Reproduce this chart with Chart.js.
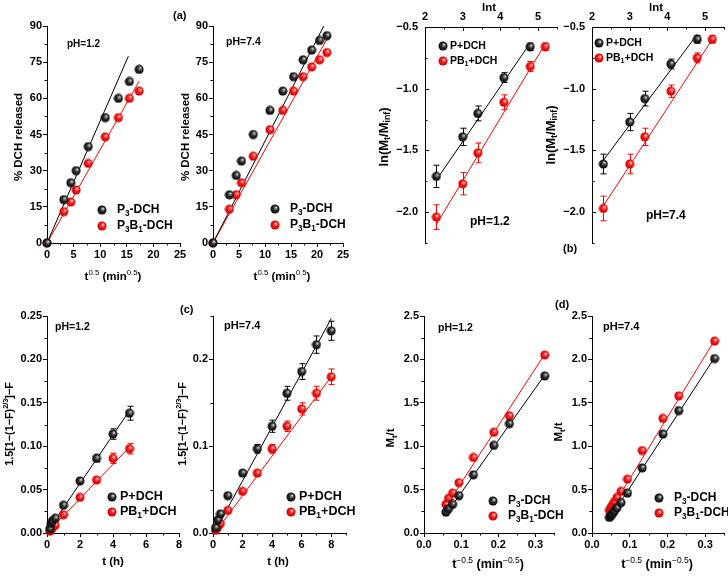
<!DOCTYPE html>
<html>
<head>
<meta charset="utf-8">
<script src="https://cdn.jsdelivr.net/npm/chart.js@4.4.1/dist/chart.umd.min.js"></script>
<style>
  body { margin: 0; background: #fff; }
  #wrap { position: relative; width: 728px; height: 578px; }
  #wrap canvas { position: absolute; left: 0; top: 0; }
</style>
</head>
<body>
<div id="wrap">
  <canvas id="a1" width="728" height="578"></canvas>
  <canvas id="a2" width="728" height="578"></canvas>
  <canvas id="b1" width="728" height="578"></canvas>
  <canvas id="b2" width="728" height="578"></canvas>
  <canvas id="c1" width="728" height="578"></canvas>
  <canvas id="c2" width="728" height="578"></canvas>
  <canvas id="d1" width="728" height="578"></canvas>
  <canvas id="d2" width="728" height="578"></canvas>
</div>
<script>
// ---- (a) Higuchi: % DCH released vs t^0.5
const aX12 = [0, 3.16, 4.47, 5.48, 7.75, 10.95, 13.42, 15.49, 17.32];
const aP3_12 = [0, 18, 25, 30, 40, 52, 60, 67, 72];
const aP3B1_12 = [0, 13, 17, 22, 33, 44, 52, 60, 63];
const aX74 = [0, 3.16, 4.47, 5.48, 7.75, 10.95, 13.42, 15.49, 17.32, 18.97, 20.49, 21.91];
const aP3_74 = [0, 20, 28, 34, 45, 55, 63, 69, 76, 80, 84, 86];
const aP3B1_74 = [0, 14, 20, 25, 36, 47, 55, 63, 69, 73, 76, 79];
const aFitX_P3_12 = [0, 15.3], aFitY_P3_12 = [0, 77.5];
const aFitX_P3B1_12 = [0, 17.3], aFitY_P3B1_12 = [0, 67];
const aFitX_P3_74 = [0, 21.3], aFitY_P3_74 = [0, 90];
const aFitX_P3B1_74 = [0, 22.4], aFitY_P3B1_74 = [0, 86.5];
const aTicksX = [0, 5, 10, 15, 20, 25];
const aTicksY = [0, 15, 30, 45, 60, 75, 90];

// ---- (b) ln(Mt/Minf) vs ln t
const bX = [2.30, 3.00, 3.40, 4.09, 4.79];
const bXred = [2.30, 3.00, 3.40, 4.09, 4.79, 5.19];
const bP_12 = [-1.71, -1.39, -1.20, -0.91, -0.66];
const bP_12err = [0.09, 0.07, 0.06, 0.04, 0.03];
const bPB1_12 = [-2.04, -1.77, -1.52, -1.11, -0.82, -0.66];
const bPB1_12err = [0.10, 0.09, 0.08, 0.06, 0.04, 0.03];
const bP_74 = [-1.61, -1.27, -1.08, -0.80, -0.60];
const bP_74err = [0.08, 0.07, 0.06, 0.04, 0.03];
const bPB1_74 = [-1.97, -1.61, -1.39, -1.02, -0.75, -0.60];
const bPB1_74err = [0.10, 0.08, 0.07, 0.05, 0.04, 0.03];
const bFitX_P_12 = [2.30, 4.79], bFitY_P_12 = [-1.74, -0.63];
const bFitX_PB1_12 = [2.30, 5.19], bFitY_PB1_12 = [-2.10, -0.635];
const bFitX_P_74 = [2.30, 4.79], bFitY_P_74 = [-1.58, -0.56];
const bFitX_PB1_74 = [2.30, 5.19], bFitY_PB1_74 = [-1.95, -0.60];
const bTicksX = [2, 3, 4, 5];
const bTicksY = [-2.0, -1.5, -1.0, -0.5];

// ---- (c) 1.5[1-(1-F)^2/3]-F vs t (h)
const cX12 = [0.17, 0.25, 0.33, 0.5, 1, 2, 3, 4, 5];
const cP_12 = [0.005, 0.011, 0.014, 0.017, 0.032, 0.060, 0.086, 0.114, 0.138];
const cP_12err = [0.001, 0.001, 0.001, 0.001, 0.002, 0.002, 0.004, 0.006, 0.008];
const cPB1_12 = [0.002, 0.004, 0.006, 0.009, 0.021, 0.041, 0.061, 0.086, 0.097];
const cPB1_12err = [0.001, 0.001, 0.001, 0.001, 0.001, 0.002, 0.003, 0.006, 0.006];
const cX74 = [0.17, 0.33, 0.5, 1, 2, 3, 4, 5, 6, 7, 8];
const cP_74 = [0.006, 0.015, 0.022, 0.043, 0.069, 0.097, 0.123, 0.161, 0.186, 0.217, 0.233];
const cP_74err = [0.001, 0.001, 0.002, 0.002, 0.003, 0.005, 0.007, 0.008, 0.009, 0.010, 0.011];
const cPB1_74 = [0.003, 0.007, 0.011, 0.026, 0.048, 0.069, 0.097, 0.123, 0.143, 0.161, 0.180];
const cPB1_74err = [0.001, 0.001, 0.001, 0.002, 0.002, 0.003, 0.005, 0.006, 0.007, 0.008, 0.009];
const cFitX_P_12 = [0.1, 5], cFitY_P_12 = [0.004, 0.141];
const cFitX_PB1_12 = [0.1, 5], cFitY_PB1_12 = [0.002, 0.099];
const cFitX_P_74 = [0.2, 8], cFitY_P_74 = [0.004, 0.247];
const cFitX_PB1_74 = [0.2, 8], cFitY_PB1_74 = [0.002, 0.180];
const cTicksX = [0, 2, 4, 6, 8];
const cTicksY12 = [0, 0.05, 0.10, 0.15, 0.20, 0.25];
const cTicksY74 = [0, 0.1, 0.2];

// ---- (d) Mt/t vs t^-0.5
const dX12 = [0.059, 0.066, 0.077, 0.094, 0.133, 0.188, 0.230, 0.325];
const dP3_12 = [0.24, 0.28, 0.33, 0.43, 0.67, 1.01, 1.26, 1.81];
const dP3B1_12 = [0.33, 0.40, 0.46, 0.58, 0.87, 1.16, 1.35, 2.05];
const dX74 = [0.046, 0.050, 0.054, 0.059, 0.066, 0.077, 0.094, 0.133, 0.188, 0.230, 0.325];
const dP3_74 = [0.18, 0.20, 0.22, 0.25, 0.29, 0.35, 0.46, 0.75, 1.14, 1.41, 2.01];
const dP3B1_74 = [0.26, 0.29, 0.32, 0.36, 0.41, 0.48, 0.62, 0.95, 1.32, 1.58, 2.21];
const dFitX_P3_12 = [0.058, 0.325], dFitY_P3_12 = [0.21, 1.82];
const dFitX_P3B1_12 = [0.058, 0.325], dFitY_P3B1_12 = [0.30, 2.06];
const dFitX_P3_74 = [0.046, 0.325], dFitY_P3_74 = [0.16, 2.02];
const dFitX_P3B1_74 = [0.046, 0.325], dFitY_P3B1_74 = [0.24, 2.22];
const dTicksX = [0, 0.1, 0.2, 0.3];
const dTicksY = [0, 0.5, 1.0, 1.5, 2.0, 2.5];

const FONT = '"Liberation Sans", Arial, sans-serif';
const W = 728, H = 578;
const TAM_TICK = 11;

// esferas tipo Origin para los marcadores
function esfera(base, luz, oscuro) {
  const r = 4.5;
  const c = document.createElement("canvas");
  c.width = c.height = 10;
  const g = c.getContext("2d");
  const cx = 5, cy = 5;
  const grad = g.createRadialGradient(cx + 1.3, cy - 1.5, 0.3, cx, cy, r);
  grad.addColorStop(0, luz);
  grad.addColorStop(0.45, base);
  grad.addColorStop(1, oscuro);
  g.fillStyle = grad;
  g.beginPath();
  g.arc(cx, cy, r, 0, Math.PI * 2);
  g.fill();
  return c;
}
const bolaNegra = esfera("#333", "#d0d0d0", "#000");
const bolaRoja = esfera("#ff1a1a", "#ffd0d0", "#c80000");

const pts = (xs, ys) => xs.map((x, i) => ({ x: x, y: ys[i] }));

// texto con super/subindices: partes = [[texto, 'sup'|'sub'|'', peso]]
function textoRico(ctx, partes, x, y, opts) {
  opts = opts || {};
  const size = opts.size || 11.5;
  const chico = size * 0.68;
  const fuente = (p) => {
    const peso = p[2] || "bold";
    const s = p[1] ? chico : size;
    return `${peso} ${s}px ${FONT}`;
  };
  ctx.save();
  ctx.translate(x, y);
  if (opts.rot) ctx.rotate(-Math.PI / 2);
  let total = 0;
  partes.forEach(p => { ctx.font = fuente(p); total += ctx.measureText(p[0]).width; });
  let cx = opts.align === "left" ? 0 : -total / 2;
  ctx.fillStyle = opts.color || "#000";
  ctx.textBaseline = "middle";
  ctx.textAlign = "left";
  partes.forEach(p => {
    ctx.font = fuente(p);
    let dy = 0;
    if (p[1] === "sup") dy = -size * 0.38;
    if (p[1] === "sub") dy = size * 0.3;
    ctx.fillText(p[0], cx, dy);
    cx += ctx.measureText(p[0]).width;
  });
  ctx.restore();
}

function menores(ticks, min, max) {
  const out = [];
  const paso = ticks[1] - ticks[0];
  for (let i = 0; i < ticks.length - 1; i++) out.push((ticks[i] + ticks[i + 1]) / 2);
  let v = ticks[ticks.length - 1] + paso / 2;
  while (v <= max + 1e-9) { out.push(v); v += paso; }
  v = ticks[0] - paso / 2;
  while (v >= min - 1e-9) { out.push(v); v -= paso; }
  return out;
}

function decorar(p) {
  return {
    id: "decor-" + p.id,
    beforeDatasetsDraw(chart) {
      const ctx = chart.ctx;
      const xs = chart.scales.x, ys = chart.scales.y;
      ctx.save();
      ctx.lineWidth = 1;
      chart.data.datasets.forEach(ds => {
        if (!ds.errs) return;
        ctx.strokeStyle = ds.borderColor;
        ds.data.forEach((q, j) => {
          const e = ds.errs[j];
          if (!e) return;
          const x = Math.round(xs.getPixelForValue(q.x)) + 0.5;
          const y1 = ys.getPixelForValue(q.y + e), y2 = ys.getPixelForValue(q.y - e);
          ctx.beginPath();
          ctx.moveTo(x, y1); ctx.lineTo(x, y2);
          ctx.moveTo(x - 3, y1); ctx.lineTo(x + 3, y1);
          ctx.moveTo(x - 3, y2); ctx.lineTo(x + 3, y2);
          ctx.stroke();
        });
      });
      ctx.restore();
    },
    afterDraw(chart) {
      const ctx = chart.ctx;
      const a = chart.chartArea;
      const xs = chart.scales.x, ys = chart.scales.y;
      // marcas: menores siempre; mayores solo cuando van hacia dentro (b)
      const dir = p.dentro ? -1 : 1;
      const marca = (v, eje, largo) => {
        if (eje === "x") {
          const x = Math.round(xs.getPixelForValue(v)) + 0.5;
          if (p.xPos === "top") { ctx.moveTo(x, a.top); ctx.lineTo(x, a.top - dir * largo); }
          else { ctx.moveTo(x, a.bottom); ctx.lineTo(x, a.bottom + dir * largo); }
        } else {
          const y = Math.round(ys.getPixelForValue(v)) + 0.5;
          ctx.moveTo(a.left, y); ctx.lineTo(a.left - dir * largo, y);
        }
      };
      ctx.save();
      ctx.strokeStyle = "#000";
      ctx.lineWidth = 1;
      ctx.beginPath();
      menores(p.xTicks, p.xMin, p.xMax).forEach(v => marca(v, "x", 2.5));
      menores(p.yTicks, p.yMin, p.yMax).forEach(v => marca(v, "y", 2.5));
      if (p.dentro) {
        p.xTicks.forEach(v => marca(v, "x", 4));
        p.yTicks.forEach(v => marca(v, "y", 4));
      }
      ctx.stroke();
      ctx.restore();

      textoRico(ctx, p.xTitle, p.xTitlePos[0], p.xTitlePos[1], { size: p.tamX || 11.5 });
      textoRico(ctx, p.yTitle, p.yTitlePos[0], p.yTitlePos[1], { rot: true, size: p.tamY || 11.5 });
      textoRico(ctx, [[p.nota, ""]], p.notaPos[0], p.notaPos[1], { align: "left", size: p.tamNota });
      if (p.etiqueta) textoRico(ctx, [[p.etiqueta[0], ""]], p.etiqueta[1], p.etiqueta[2], { align: "left", size: 11 });
      p.leyenda.forEach(l => {
        ctx.drawImage(l.img, l.x - 5, l.y - 5);
        textoRico(ctx, l.texto, l.x + p.hueco, l.y, { align: "left", size: p.tamLey });
      });
    }
  };
}

function panel(p) {
  const r = p.rect;
  const escala = (ticks, fmt, eje) => ({
    type: "linear",
    position: eje === "x" ? (p.xPos || "bottom") : "left",
    min: eje === "x" ? p.xMin : p.yMin,
    max: eje === "x" ? p.xMax : p.yMax,
    afterBuildTicks: s => { s.ticks = ticks.map(v => ({ value: v })); },
    afterFit: s => {
      if (eje === "y") s.width = r.l;
      else s.height = p.xPos === "top" ? r.t : H - r.b;
    },
    ticks: {
      autoSkip: false, maxRotation: 0, color: "#000",
      padding: p.dentro ? (eje === "x" ? 3 : 7) : 1,
      font: { family: FONT, size: TAM_TICK, weight: "bold" },
      callback: v => fmt(v)
    },
    grid: p.dentro
      ? { display: false, drawTicks: false }
      : { display: true, drawOnChartArea: false, color: "#000", tickLength: 4, lineWidth: 1 },
    border: { display: true, color: "#000", width: 1 }
  });
  const padding = p.xPos === "top"
    ? { left: 0, top: 0, right: W - r.r, bottom: H - r.b }
    : { left: 0, top: r.t, right: W - r.r, bottom: 0 };
  return new Chart(document.getElementById(p.id), {
    type: "scatter",
    data: { datasets: p.datasets },
    options: {
      responsive: false,
      animation: false,
      events: [],
      layout: { autoPadding: false, padding: padding },
      plugins: { legend: { display: false }, tooltip: { enabled: false } },
      scales: {
        x: escala(p.xTicks, p.xFmt, "x"),
        y: escala(p.yTicks, p.yFmt, "y")
      }
    },
    plugins: [decorar(p)]
  });
}

function puntos(xs, ys, img, color, errs) {
  return { data: pts(xs, ys), pointStyle: img, pointRadius: 4.5, showLine: false,
           borderColor: color, backgroundColor: color, errs: errs, clip: false };
}
function recta(xs, ys, color) {
  return { data: pts(xs, ys), showLine: true, pointRadius: 0, borderColor: color,
           borderWidth: 1, fill: false };
}

const entero = v => String(v);
const unDec = v => v.toFixed(1).replace("-", "\u2212");
const dosDec = v => v.toFixed(2);

const tituloRaizT = [["t", ""], ["0.5", "sup", "normal"], [" (min", ""], ["0.5", "sup", "normal"], [")", ""]];
const tituloLn = [["ln(M", ""], ["t", "sub"], ["/M", ""], ["inf", "sub"], [")", ""]];
const tituloHC = [["1.5[1\u2212(1\u2212F)", ""], ["2/3", "sup"], ["]\u2212F", ""]];
const tituloMt = [["M", ""], ["t", "sub"], ["/t", ""]];
const tituloInvT = [["t", ""], ["\u22120.5", "sup", "normal"], [" (min", ""], ["\u22120.5", "sup", "normal"], [")", ""]];
const leyP3 = [["P", ""], ["3", "sub"], ["-DCH", ""]];
const leyP3B1 = [["P", ""], ["3", "sub"], ["B", ""], ["1", "sub"], ["-DCH", ""]];
const leyP = [["P+DCH", ""]];
const leyPB1 = [["PB", ""], ["1", "sub"], ["+DCH", ""]];

// (a) pH 1.2
panel({
  id: "a1", rect: { l: 47, t: 26, r: 180, b: 243 },
  xMin: 0, xMax: 25, xTicks: aTicksX, xFmt: entero,
  yMin: 0, yMax: 90, yTicks: aTicksY, yFmt: entero,
  datasets: [
    puntos(aX12, aP3_12, bolaNegra, "#000"),
    puntos(aX12, aP3B1_12, bolaRoja, "#ff0000"),
    recta(aFitX_P3_12, aFitY_P3_12, "#000"),
    recta(aFitX_P3B1_12, aFitY_P3B1_12, "#ff0000")
  ],
  xTitle: tituloRaizT, xTitlePos: [113, 277],
  yTitle: [["% DCH released", ""]], yTitlePos: [19, 137],
  nota: "pH=1.2", notaPos: [67, 44], tamNota: 10, etiqueta: ["(a)", 173, 16],
  hueco: 15, tamLey: 12,
  leyenda: [{ x: 102, y: 210, img: bolaNegra, texto: leyP3 }, { x: 102, y: 226, img: bolaRoja, texto: leyP3B1 }]
});

// (a) pH 7.4
panel({
  id: "a2", rect: { l: 213, t: 26, r: 343, b: 243 },
  xMin: 0, xMax: 25, xTicks: aTicksX, xFmt: entero,
  yMin: 0, yMax: 90, yTicks: aTicksY, yFmt: entero,
  datasets: [
    puntos(aX74, aP3_74, bolaNegra, "#000"),
    puntos(aX74, aP3B1_74, bolaRoja, "#ff0000"),
    recta(aFitX_P3_74, aFitY_P3_74, "#000"),
    recta(aFitX_P3B1_74, aFitY_P3B1_74, "#ff0000")
  ],
  xTitle: tituloRaizT, xTitlePos: [282, 277],
  yTitle: [["% DCH released", ""]], yTitlePos: [186, 137],
  nota: "pH=7.4", notaPos: [226, 42], tamNota: 10.5,
  hueco: 15, tamLey: 12,
  leyenda: [{ x: 275, y: 209, img: bolaNegra, texto: leyP3 }, { x: 275, y: 225, img: bolaRoja, texto: leyP3B1 }]
});

// (b) pH 1.2
panel({
  id: "b1", rect: { l: 425, t: 27, r: 557, b: 243 }, xPos: "top", dentro: true,
  xMin: 2, xMax: 5.5, xTicks: bTicksX, xFmt: entero,
  yMin: -2.25, yMax: -0.5, yTicks: bTicksY, yFmt: unDec,
  datasets: [
    puntos(bX, bP_12, bolaNegra, "#000", bP_12err),
    puntos(bXred, bPB1_12, bolaRoja, "#ff0000", bPB1_12err),
    recta(bFitX_P_12, bFitY_P_12, "#000"),
    recta(bFitX_PB1_12, bFitY_PB1_12, "#ff0000")
  ],
  xTitle: [["lnt", ""]], xTitlePos: [489, 8],
  yTitle: tituloLn, yTitlePos: [384, 137], tamY: 13,
  nota: "pH=1.2", notaPos: [470, 222], tamNota: 12,
  hueco: 7, tamLey: 10.5,
  leyenda: [{ x: 443, y: 46, img: bolaNegra, texto: leyP }, { x: 443, y: 61, img: bolaRoja, texto: leyPB1 }]
});

// (b) pH 7.4
panel({
  id: "b2", rect: { l: 592, t: 27, r: 724, b: 243 }, xPos: "top", dentro: true,
  xMin: 2, xMax: 5.5, xTicks: bTicksX, xFmt: entero,
  yMin: -2.25, yMax: -0.5, yTicks: bTicksY, yFmt: unDec,
  datasets: [
    puntos(bX, bP_74, bolaNegra, "#000", bP_74err),
    puntos(bXred, bPB1_74, bolaRoja, "#ff0000", bPB1_74err),
    recta(bFitX_P_74, bFitY_P_74, "#000"),
    recta(bFitX_PB1_74, bFitY_PB1_74, "#ff0000")
  ],
  xTitle: [["lnt", ""]], xTitlePos: [656, 8],
  yTitle: tituloLn, yTitlePos: [551, 135], tamY: 13,
  nota: "pH=7.4", notaPos: [646, 216], tamNota: 12, etiqueta: ["(b)", 563, 249],
  hueco: 7, tamLey: 10.5,
  leyenda: [{ x: 599, y: 43, img: bolaNegra, texto: leyP }, { x: 599, y: 58, img: bolaRoja, texto: leyPB1 }]
});

// (c) pH 1.2
panel({
  id: "c1", rect: { l: 47, t: 316, r: 179, b: 533 },
  xMin: 0, xMax: 8, xTicks: cTicksX, xFmt: entero,
  yMin: 0, yMax: 0.25, yTicks: cTicksY12, yFmt: dosDec,
  datasets: [
    puntos(cX12, cP_12, bolaNegra, "#000", cP_12err),
    puntos(cX12, cPB1_12, bolaRoja, "#ff0000", cPB1_12err),
    recta(cFitX_P_12, cFitY_P_12, "#000"),
    recta(cFitX_PB1_12, cFitY_PB1_12, "#ff0000")
  ],
  xTitle: [["t (h)", ""]], xTitlePos: [113, 562],
  yTitle: tituloHC, yTitlePos: [10, 424], tamY: 10.8,
  nota: "pH=1.2", notaPos: [55, 327], tamNota: 10.5,
  hueco: 8, tamLey: 12.5,
  leyenda: [{ x: 112, y: 497, img: bolaNegra, texto: leyP }, { x: 112, y: 512, img: bolaRoja, texto: leyPB1 }]
});

// (c) pH 7.4
panel({
  id: "c2", rect: { l: 213, t: 316, r: 346, b: 533 },
  xMin: 0, xMax: 9, xTicks: cTicksX, xFmt: entero,
  yMin: 0, yMax: 0.25, yTicks: cTicksY74, yFmt: unDec,
  datasets: [
    puntos(cX74, cP_74, bolaNegra, "#000", cP_74err),
    puntos(cX74, cPB1_74, bolaRoja, "#ff0000", cPB1_74err),
    recta(cFitX_P_74, cFitY_P_74, "#000"),
    recta(cFitX_PB1_74, cFitY_PB1_74, "#ff0000")
  ],
  xTitle: [["t (h)", ""]], xTitlePos: [278, 562],
  yTitle: tituloHC, yTitlePos: [183, 424], tamY: 10.8,
  nota: "pH=7.4", notaPos: [224, 326], tamNota: 11, etiqueta: ["(c)", 180, 310],
  hueco: 8, tamLey: 12.5,
  leyenda: [{ x: 291, y: 497, img: bolaNegra, texto: leyP }, { x: 291, y: 512, img: bolaRoja, texto: leyPB1 }]
});

// (d) pH 1.2
panel({
  id: "d1", rect: { l: 424, t: 316, r: 554, b: 533 },
  xMin: 0, xMax: 0.35, xTicks: dTicksX, xFmt: unDec,
  yMin: 0, yMax: 2.5, yTicks: dTicksY, yFmt: unDec,
  datasets: [
    puntos(dX12, dP3_12, bolaNegra, "#000"),
    puntos(dX12, dP3B1_12, bolaRoja, "#ff0000"),
    recta(dFitX_P3_12, dFitY_P3_12, "#000"),
    recta(dFitX_P3B1_12, dFitY_P3B1_12, "#ff0000")
  ],
  xTitle: tituloInvT, xTitlePos: [488, 565], tamX: 12.5,
  yTitle: tituloMt, yTitlePos: [391, 438],
  nota: "pH=1.2", notaPos: [438, 328], tamNota: 10.5,
  hueco: 15, tamLey: 12,
  leyenda: [{ x: 493, y: 501, img: bolaNegra, texto: leyP3 }, { x: 493, y: 516, img: bolaRoja, texto: leyP3B1 }]
});

// (d) pH 7.4
panel({
  id: "d2", rect: { l: 592, t: 316, r: 724, b: 533 },
  xMin: 0, xMax: 0.35, xTicks: dTicksX, xFmt: unDec,
  yMin: 0, yMax: 2.5, yTicks: dTicksY, yFmt: unDec,
  datasets: [
    puntos(dX74, dP3_74, bolaNegra, "#000"),
    puntos(dX74, dP3B1_74, bolaRoja, "#ff0000"),
    recta(dFitX_P3_74, dFitY_P3_74, "#000"),
    recta(dFitX_P3B1_74, dFitY_P3B1_74, "#ff0000")
  ],
  xTitle: tituloInvT, xTitlePos: [657, 565], tamX: 12.5,
  yTitle: tituloMt, yTitlePos: [559, 432],
  nota: "pH=7.4", notaPos: [603, 327], tamNota: 11, etiqueta: ["(d)", 555, 305],
  hueco: 15, tamLey: 12,
  leyenda: [{ x: 659, y: 498, img: bolaNegra, texto: leyP3 }, { x: 659, y: 513, img: bolaRoja, texto: leyP3B1 }]
});
</script>
</body>
</html>
